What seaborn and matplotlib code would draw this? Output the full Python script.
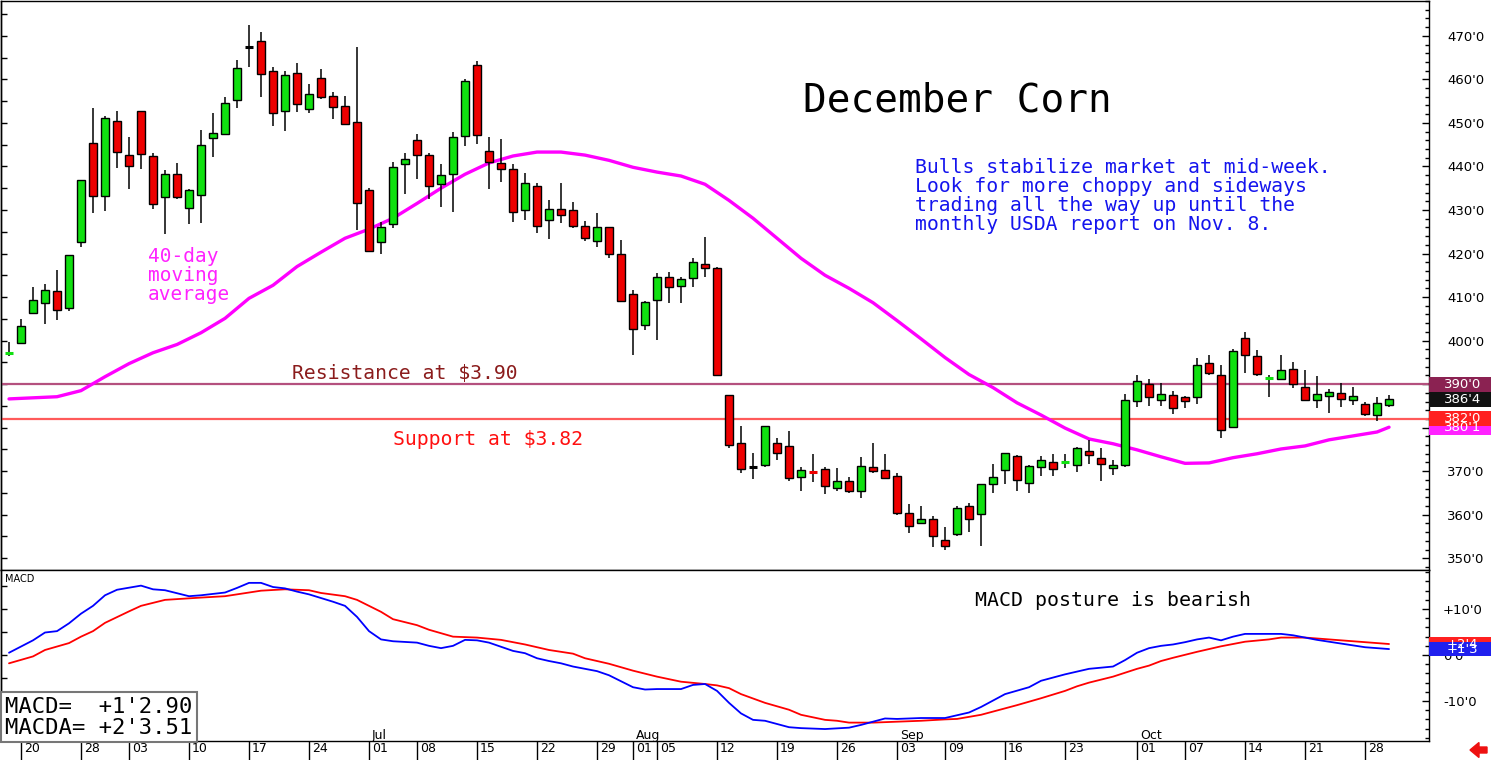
import numpy as np
import pandas as pd
import matplotlib
matplotlib.use("Agg")
import matplotlib.pyplot as plt
import matplotlib.transforms as mtransforms
from matplotlib.patches import Rectangle, FancyArrow
from matplotlib.ticker import MultipleLocator
import seaborn as sns

# ---------------- data ----------------
holidays = ["2019-05-27", "2019-07-04", "2019-09-02"]
dates = pd.bdate_range("2019-05-17", "2019-10-30")
dates = dates[~dates.isin(pd.to_datetime(holidays))]

opens = [396.8, 399.5, 406.4, 408.7, 411.3, 407.4, 422.6, 445.4, 433.2, 450.4,
         442.6, 452.7, 442.4, 432.9, 438.2, 430.4, 433.4, 446.5, 447.4, 455.3,
         467.5, 468.8, 461.9, 452.7, 461.5, 453.2, 460.3, 456.2, 453.9, 450.2,
         434.5, 422.6, 426.7, 440.5, 446.0, 442.6, 435.9, 438.2, 447.0, 463.3,
         443.5, 440.7, 439.3, 430.1, 435.4, 427.8, 430.3, 430.1, 426.4, 422.9,
         426.2, 420.0, 410.7, 403.6, 409.4, 414.7, 412.6, 414.4, 417.7, 416.7,
         387.5, 376.4, 370.9, 371.4, 376.4, 375.7, 368.6, 370.0, 370.4, 366.1,
         367.7, 365.4, 370.9, 370.2, 368.8, 360.5, 358.0, 358.9, 354.1, 355.5,
         362.1, 360.1, 367.0, 370.2, 373.4, 367.2, 370.9, 372.0, 371.8, 371.4,
         374.6, 373.0, 370.7, 371.4, 386.1, 390.0, 386.3, 387.5, 387.0, 387.0,
         394.8, 392.1, 380.1, 400.6, 396.5, 391.3, 391.2, 393.5, 389.3, 386.3,
         387.3, 387.9, 386.3, 385.4, 382.9, 385.2]
highs = [399.6, 405.0, 412.4, 413.1, 416.1, 419.6, 436.8, 453.4, 451.6, 452.7,
         446.7, 452.7, 443.1, 439.1, 440.8, 434.8, 448.4, 452.3, 456.0, 464.5,
         472.5, 470.9, 462.9, 461.9, 463.8, 458.9, 462.4, 457.1, 456.2, 467.5,
         435.0, 427.2, 441.0, 443.1, 447.4, 443.1, 440.5, 447.9, 460.1, 464.2,
         446.7, 446.4, 440.5, 438.4, 436.3, 432.2, 436.1, 431.9, 427.4, 429.2,
         426.2, 423.0, 411.7, 409.1, 415.6, 415.8, 414.7, 419.0, 423.9, 417.0,
         387.5, 380.4, 374.2, 380.3, 377.6, 379.3, 370.9, 374.0, 370.9, 370.7,
         368.6, 373.2, 376.5, 374.0, 369.5, 362.4, 362.1, 359.6, 357.1, 361.9,
         362.8, 367.0, 371.6, 374.1, 373.7, 371.4, 373.4, 373.9, 373.9, 375.5,
         377.1, 375.3, 372.5, 387.7, 392.1, 391.2, 390.2, 388.4, 387.3, 396.0,
         396.7, 394.4, 398.1, 402.0, 397.8, 392.1, 396.7, 395.1, 393.2, 391.9,
         388.9, 390.2, 389.3, 385.9, 387.0, 387.5]
lows = [396.5, 399.5, 406.4, 403.9, 404.8, 406.7, 421.6, 429.2, 429.7, 439.6,
        434.8, 439.4, 430.2, 424.4, 432.5, 426.7, 426.9, 442.1, 447.4, 453.4,
        462.9, 456.0, 449.3, 448.1, 452.5, 452.3, 455.5, 450.9, 449.5, 425.3,
        420.3, 419.8, 425.8, 433.6, 437.1, 432.5, 430.6, 429.5, 444.7, 445.1,
        434.8, 436.4, 427.2, 427.8, 424.8, 423.4, 427.1, 425.9, 422.9, 421.5,
        419.0, 408.9, 396.7, 402.4, 400.1, 408.7, 408.7, 412.3, 414.7, 392.0,
        375.4, 369.5, 368.3, 370.9, 372.6, 367.7, 365.5, 367.4, 364.8, 365.5,
        365.1, 363.8, 369.5, 368.1, 359.9, 355.8, 357.8, 352.5, 351.8, 355.2,
        356.1, 352.7, 364.9, 367.0, 365.4, 365.1, 368.8, 368.8, 370.8, 369.7,
        371.6, 367.7, 369.1, 370.9, 384.7, 385.0, 385.0, 383.1, 384.5, 385.4,
        392.1, 377.6, 379.9, 392.5, 391.9, 387.0, 390.9, 389.1, 386.1, 384.5,
        383.3, 384.7, 385.2, 382.7, 381.5, 384.7]
closes = [397.2, 403.4, 409.4, 411.7, 407.1, 419.6, 436.8, 433.2, 451.1, 443.3,
          440.1, 442.8, 431.3, 438.2, 432.9, 434.5, 444.9, 447.7, 454.6, 462.6,
          467.5, 461.2, 452.3, 461.0, 454.3, 456.6, 456.0, 453.6, 449.7, 431.5,
          420.5, 426.2, 439.8, 441.7, 442.6, 435.5, 438.0, 446.7, 459.6, 447.2,
          441.0, 439.5, 429.6, 436.3, 426.4, 430.3, 428.9, 426.4, 423.6, 426.2,
          420.0, 409.1, 402.7, 408.9, 414.7, 412.4, 414.2, 418.1, 416.7, 392.0,
          376.0, 370.4, 370.9, 380.3, 374.1, 368.4, 370.2, 369.8, 366.5, 367.7,
          365.4, 371.1, 370.0, 368.4, 360.5, 357.3, 358.9, 355.0, 352.9, 361.5,
          358.9, 367.0, 368.6, 374.1, 367.9, 371.1, 372.5, 370.4, 372.0, 375.3,
          373.7, 371.6, 371.4, 386.3, 390.7, 387.0, 387.7, 384.5, 386.1, 394.4,
          392.5, 379.4, 397.6, 396.7, 392.3, 391.5, 393.2, 390.0, 386.3, 387.7,
          388.2, 386.6, 387.3, 383.1, 385.6, 386.5]

# 40-day moving average (at trading-day numbers)
ma_day = [1, 5, 7, 9, 11, 13, 15, 17, 19, 21, 23, 25, 27, 29, 31, 33, 35, 37, 39,
          41, 43, 45, 47, 49, 51, 53, 55, 57, 59, 61, 63, 65, 67, 69, 71, 73, 75,
          77, 79, 81, 83, 85, 87, 89, 91, 93, 95, 97, 99, 101, 103, 105, 107, 109,
          111, 113, 115, 116]
ma_value = [386.6, 387.1, 388.5, 391.7, 394.7, 397.2, 399.1, 401.8, 405.1, 409.7,
            412.7, 417.0, 420.3, 423.5, 425.6, 428.1, 431.5, 435.0, 438.2, 440.8,
            442.4, 443.3, 443.3, 442.6, 441.4, 439.8, 438.7, 437.8, 435.9, 432.2,
            428.1, 423.5, 418.9, 415.0, 412.0, 408.7, 404.6, 400.4, 396.1, 392.2,
            389.2, 385.7, 382.9, 379.9, 377.4, 376.3, 374.9, 373.3, 371.8, 371.9,
            373.1, 374.0, 375.1, 375.8, 377.2, 378.1, 379.0, 380.1]

macd_day = [1, 3, 4, 5, 6, 7, 8, 9, 10, 12, 13, 14, 16, 17, 19, 20, 21, 22, 23, 24,
            25, 26, 28, 29, 30, 31, 32, 33, 35, 36, 37, 38, 39, 40, 41, 43, 44, 45,
            46, 47, 48, 49, 50, 51, 52, 53, 54, 55, 57, 58, 59, 60, 61, 62, 63, 64,
            66, 67, 69, 71, 72, 74, 75, 77, 79, 81, 82, 84, 86, 87, 89, 91, 93, 94,
            95, 96, 97, 98, 99, 100, 101, 102, 103, 104, 107, 108, 110, 112, 114, 116]
macd_value = [0.5, 3.2, 4.9, 5.2, 6.9, 9.0, 10.7, 13.0, 14.2, 15.1, 14.3, 14.1,
              12.8, 13.0, 13.6, 14.6, 15.7, 15.7, 14.8, 14.5, 13.8, 13.2, 11.6,
              10.7, 8.3, 5.2, 3.4, 3.0, 2.7, 2.0, 1.5, 2.0, 3.3, 3.2, 2.7, 0.9, 0.4,
              -0.7, -1.3, -1.8, -2.5, -3.0, -3.5, -4.4, -5.7, -7.0, -7.5, -7.4, -7.4,
              -6.5, -6.3, -7.8, -10.4, -12.7, -14.1, -14.3, -15.7, -15.9, -16.1,
              -15.8, -15.2, -13.8, -13.9, -13.7, -13.7, -12.5, -11.3, -8.5, -7.0,
              -5.6, -4.2, -3.0, -2.5, -1.1, 0.5, 1.5, 2.0, 2.3, 2.8, 3.4, 3.8, 3.2,
              4.0, 4.6, 4.6, 4.3, 3.3, 2.5, 1.7, 1.3]

signal_day = [1, 3, 4, 6, 7, 8, 9, 11, 12, 14, 17, 19, 22, 24, 26, 27, 29, 30, 32,
              33, 35, 36, 38, 40, 42, 44, 46, 48, 49, 51, 53, 55, 57, 59, 60, 61,
              62, 64, 66, 67, 69, 70, 71, 73, 75, 77, 79, 80, 82, 84, 85, 87, 89,
              90, 91, 93, 95, 96, 97, 98, 100, 101, 102, 104, 106, 107, 109, 111,
              114, 116]
signal_value = [-1.8, -0.3, 1.1, 2.6, 4.0, 5.2, 7.0, 9.5, 10.7, 12.0, 12.5, 12.8,
                14.0, 14.3, 14.1, 13.5, 12.8, 12.0, 9.4, 7.8, 6.5, 5.5, 4.0, 3.8,
                3.3, 2.3, 1.1, 0.3, -0.7, -1.9, -3.4, -4.7, -5.8, -6.3, -6.6, -7.2,
                -8.5, -10.4, -11.9, -13.0, -14.1, -14.3, -14.7, -14.7, -14.5, -14.3,
                -14.0, -13.9, -13.0, -11.6, -10.9, -9.4, -7.8, -6.8, -6.0, -4.7,
                -3.0, -2.3, -1.3, -0.6, 0.7, 1.3, 1.9, 2.9, 3.4, 3.8, 3.8, 3.4, 2.8,
                2.4]

tick_dates = ["2019-05-20", "2019-05-28", "2019-06-03", "2019-06-10", "2019-06-17",
              "2019-06-24", "2019-07-01", "2019-07-08", "2019-07-15", "2019-07-22",
              "2019-07-29", "2019-08-01", "2019-08-05", "2019-08-12", "2019-08-19",
              "2019-08-26", "2019-09-03", "2019-09-09", "2019-09-16", "2019-09-23",
              "2019-10-01", "2019-10-07", "2019-10-14", "2019-10-21", "2019-10-28"]
tick_labels = ["20", "28", "03", "10", "17", "24", "01", "08", "15", "22", "29",
               "01", "05", "12", "19", "26", "03", "09", "16", "23", "01", "07",
               "14", "21", "28"]
month_dates = ["2019-07-01", "2019-08-01", "2019-09-03", "2019-10-01"]
month_names = ["Jul", "Aug", "Sep", "Oct"]

price_ticks = [350, 360, 370, 380, 390, 400, 410, 420, 430, 440, 450, 460, 470]
price_tick_labels = ["350'0", "360'0", "370'0", "380'0", "390'0", "400'0", "410'0",
                     "420'0", "430'0", "440'0", "450'0", "460'0", "470'0"]
resistance = 390.0
support = 382.0

# ---------------- style ----------------
sns.set_theme(style="white")
plt.rcParams["font.family"] = ["DejaVu Sans"]
plt.rcParams["axes.edgecolor"] = "black"
plt.rcParams["axes.linewidth"] = 1.0
plt.rcParams["text.color"] = "black"
plt.rcParams["xtick.color"] = "black"
plt.rcParams["ytick.color"] = "black"

GREEN = "#10e010"
RED = "#ee0000"
MONO = "DejaVu Sans Mono"

W, H = 1491, 760
fig = plt.figure(figsize=(W / 100, H / 100), dpi=100)
fig.patch.set_facecolor("white")
ax = fig.add_axes([1 / W, 190 / H, 1428 / W, 569 / H])
axm = fig.add_axes([1 / W, 19 / H, 1428 / W, 171 / H], sharex=ax)

idx = np.arange(1, len(dates) + 1)
o = np.array(opens); h = np.array(highs); l = np.array(lows); c = np.array(closes)

# support / resistance
ax.axhline(resistance, color="#b4507e", lw=1.6, zorder=1)
ax.axhline(support, color="#ff5a5a", lw=1.6, zorder=1)

# moving average
sns.lineplot(x=ma_day, y=ma_value, ax=ax, color="#ff00ff", linewidth=2.4, zorder=2)

# candles
ax.vlines(idx, l, h, color="black", lw=1.1, zorder=3)
diff = c - o
big = np.abs(diff) >= 0.45
cols = np.where(diff > 0, GREEN, RED)
ax.bar(idx[big], np.abs(diff[big]), bottom=np.minimum(o, c)[big], width=0.62,
       color=cols[big], edgecolor="black", linewidth=1.0, zorder=4)
for i in np.where(~big)[0]:
    dc = GREEN if diff[i] > 0 else (RED if diff[i] < 0 else "black")
    ax.hlines(c[i], idx[i] - 0.32, idx[i] + 0.32, color=dc, lw=2.2, zorder=4)

ax.set_xlim(0.333, 119.33)
ax.set_ylim(347.3, 478.0)
ax.set_xlabel(""); ax.set_ylabel("")
ax.yaxis.tick_right()
ax.set_yticks(price_ticks, price_tick_labels)
ax.yaxis.set_minor_locator(MultipleLocator(2))
ax.tick_params(axis="y", which="major", direction="in", length=5, width=1,
               right=True, left=False, labelright=True, labelleft=False,
               pad=13, labelsize=9.5)
ax.tick_params(axis="y", which="minor", direction="in", length=3, width=1,
               right=True, left=False)
ax.tick_params(axis="x", which="both", bottom=False, labelbottom=False)
sec = ax.secondary_yaxis("left")
sec.set_yticks(np.arange(350, 480, 5))
sec.set_yticklabels([])
sec.tick_params(direction="in", length=4, width=1)

# MACD panel
sns.lineplot(x=signal_day, y=signal_value, ax=axm, color="#ff0000", linewidth=1.3)
sns.lineplot(x=macd_day, y=macd_value, ax=axm, color="#0000ff", linewidth=1.3)
axm.set_ylim(-18.7, 18.5)
axm.set_xlabel(""); axm.set_ylabel("")
axm.yaxis.tick_right()
axm.set_yticks([-10, 0, 10], ["-10'0", "0'0", "+10'0"])
axm.yaxis.set_minor_locator(MultipleLocator(2))
axm.tick_params(axis="y", which="major", direction="in", length=5, width=1,
                right=True, left=False, labelright=True, labelleft=False,
                pad=10, labelsize=9.5)
axm.tick_params(axis="y", which="minor", direction="in", length=3, width=1,
                right=True, left=False)
sec2 = axm.secondary_yaxis("left")
sec2.set_yticks(np.arange(-15, 20, 5))
sec2.set_yticklabels([])
sec2.tick_params(direction="in", length=4, width=1)

tick_pos = [dates.get_loc(pd.Timestamp(d)) + 1 for d in tick_dates]
axm.set_xticks(tick_pos, tick_labels)
axm.tick_params(axis="x", which="major", direction="out", length=13.5, width=1,
                pad=-12.5, labelsize=9, bottom=True)
shift = mtransforms.ScaledTranslation(3 / 100, 0, fig.dpi_scale_trans)
for lbl in axm.get_xticklabels():
    lbl.set_ha("left")
    lbl.set_transform(lbl.get_transform() + shift)

mtrans = mtransforms.blended_transform_factory(axm.transData, axm.transAxes)
for d, name in zip(month_dates, month_names):
    p = dates.get_loc(pd.Timestamp(d)) + 1
    axm.text(p + 0.25, 0.035, name, transform=mtrans, fontsize=9, ha="left",
             va="center")

# ---------------- annotations ----------------
ax.text(0.5616, 0.826, "December Corn", transform=ax.transAxes, family=MONO,
        fontsize=28.4, ha="left", va="center", color="black")
ax.text(0.6400, 0.724,
        "Bulls stabilize market at mid-week.\nLook for more choppy and sideways\n"
        "trading all the way up until the\nmonthly USDA report on Nov. 8.",
        transform=ax.transAxes, family=MONO, fontsize=14.2, ha="left", va="top",
        color="#1414ee", linespacing=1.0)
ax.text(0.1030, 0.568, "40-day\nmoving\naverage", transform=ax.transAxes,
        family=MONO, fontsize=14, ha="left", va="top", color="#ff22ff",
        linespacing=1.0)
ax.text(0.2038, 0.346, "Resistance at $3.90", transform=ax.transAxes, family=MONO,
        fontsize=14.2, ha="left", va="center", color="#8b1c1c")
ax.text(0.2745, 0.2285, "Support at $3.82", transform=ax.transAxes, family=MONO,
        fontsize=14.2, ha="left", va="center", color="#ff1010")
axm.text(0.682, 0.819, "MACD posture is bearish", transform=axm.transAxes,
         family=MONO, fontsize=14.3, ha="left", va="center", color="black")
axm.text(0.003, 0.95, "MACD", transform=axm.transAxes, fontsize=7, ha="left",
         va="center")
axm.text(0.003, 0.02, "MACD=  +1'2.90\nMACDA= +2'3.51", transform=axm.transAxes,
         family=MONO, fontsize=16, ha="left", va="bottom", linespacing=1.05,
         bbox=dict(boxstyle="square,pad=0.2", facecolor="white",
                   edgecolor="#777777", linewidth=1.5), zorder=6)


def value_box(axis, value, text, color, half_px=7.5):
    lo, hi = axis.get_ylim()
    hpx = axis.get_position().height * H
    half = half_px * (hi - lo) / hpx
    tr = mtransforms.blended_transform_factory(axis.transAxes, axis.transData)
    wfrac = 64 / (axis.get_position().width * W)
    axis.add_patch(Rectangle((1.0, value - half), wfrac, 2 * half, transform=tr,
                             facecolor=color, edgecolor="none", clip_on=False,
                             zorder=10))
    axis.text(1.0 + wfrac * 0.52, value, text, transform=tr, color="white",
              fontsize=9.5, ha="center", va="center", clip_on=False, zorder=11)


value_box(ax, ma_value[-1], "380'1", "#ff22ff")
value_box(ax, support, "382'0", "#ff2020")
value_box(ax, resistance, "390'0", "#8b2252")
value_box(ax, closes[-1], "386'4", "#111111")
value_box(axm, signal_value[-1], "+2'4", "#ff2020")
value_box(axm, macd_value[-1], "+1'3", "#2020ee", half_px=7)

for a in (ax, axm):
    for s in a.spines.values():
        s.set_color("black")
        s.set_linewidth(1.0)

fig.add_artist(FancyArrow(1487 / W, 1 - 750 / H, -8 / W, 0, width=6 / H,
                          head_width=15 / H, head_length=9 / W,
                          length_includes_head=False, color="#ee1111",
                          transform=fig.transFigure))

fig.savefig("out.png", dpi=100, facecolor="white")
